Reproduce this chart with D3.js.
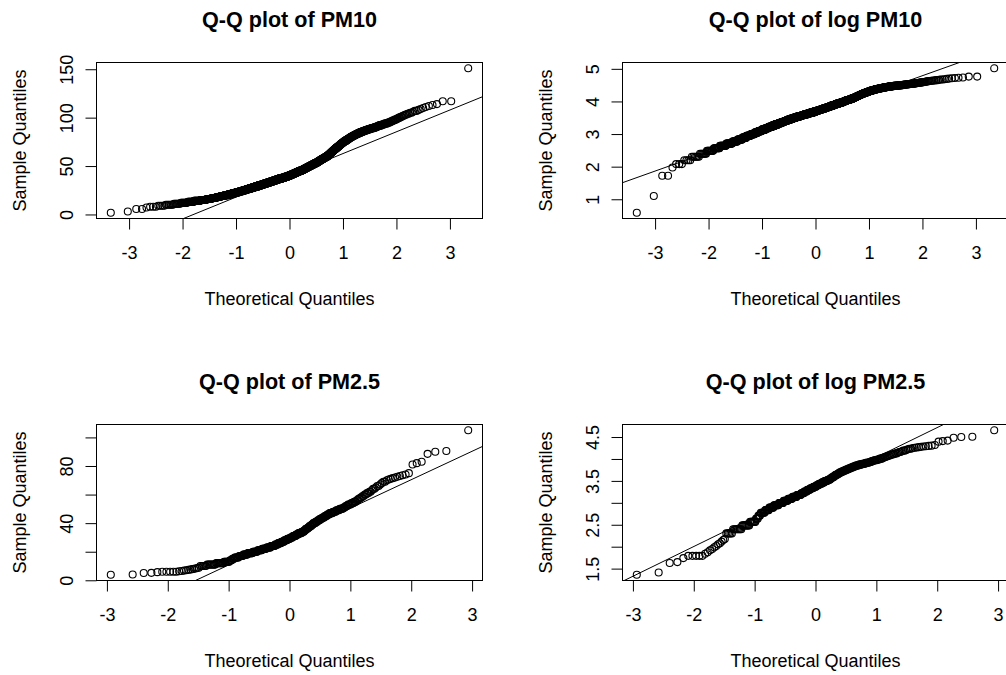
<!DOCTYPE html>
<html>
<head>
<meta charset="utf-8">
<script src="https://cdn.jsdelivr.net/npm/d3@7"></script>
<style>
  body { margin: 0; background: #fff; }
  svg text { font-family: "Liberation Sans", Arial, sans-serif; fill: #000; }
</style>
</head>
<body>
<svg id="chart" width="1006" height="675"></svg>
<script>
// Daily PM10 concentrations: distinct values and the number of days at each value
const pm10Values = [1.8, 3, 5.6, 7.2,
  8, 9, 10, 11, 12, 13, 14, 15, 16, 17, 18, 19, 20, 21, 22, 23, 24, 25, 26, 27, 28, 29, 30,
  31, 32, 33, 34, 35, 36, 37, 38, 39, 40,
  41, 42, 43, 44, 45, 46, 47, 48, 49, 50,
  51, 52, 53, 54, 55, 56, 57, 58, 59, 60,
  61, 62, 63, 64, 65, 66, 67, 68, 69, 70,
  71, 72, 73, 74, 75, 76, 77, 78, 79, 80,
  81, 82, 83, 84, 85, 86, 87, 88, 89, 90,
  91, 92, 93, 94, 95, 96, 97, 98, 99, 100,
  101, 102, 103, 104, 105, 106, 107, 108, 109, 110,
  111, 112, 113, 114, 117, 151];
const pm10Days = [1, 1, 2, 1,
  3, 4, 6, 7, 9, 10, 13, 15, 15, 16, 15, 17, 18, 18, 18, 20, 20, 21, 20, 22, 22, 22, 22,
  23, 25, 25, 25, 25, 25, 26, 27, 26, 23,
  20, 20, 20, 20, 19, 18, 16, 16, 16, 16,
  16, 15, 14, 12, 12, 12, 13, 12, 12, 10,
  7, 7, 7, 7, 7, 7, 7, 7, 7, 7,
  7, 6, 7, 7, 7, 8, 7, 7, 7, 8,
  8, 8, 8, 8, 8, 9, 9, 9, 9, 7,
  5, 6, 5, 6, 4, 3, 3, 3, 2, 2,
  2, 2, 2, 2, 2, 1, 2, 1, 1, 1,
  1, 1, 1, 1, 2, 1];

// Daily PM2.5 concentrations: distinct values and the number of days at each value
const pm25Values = [3.9, 4.1, 5.1, 5.2, 5.7, 6, 6.3, 6.5, 6.8, 7, 7.3, 7.5, 7.8, 8, 8.3, 8.6, 8.8,
  10, 11, 12, 13, 14, 15, 16, 17, 18, 19,
  20, 21, 22, 23, 24, 25, 26, 27, 28, 29,
  30, 31, 32, 33, 34, 35, 36, 37, 38, 39,
  40, 41, 42, 43, 44, 45, 46, 47, 48, 49,
  50, 51, 52, 53, 54, 55, 56, 57, 58, 59,
  60, 61, 62, 63, 64, 65, 66, 67, 68, 69,
  70, 70.5, 71, 71.5, 72, 72.5, 73, 73.5, 74, 75, 81, 82, 83, 88.5, 90, 90.5, 105];
const pm25Days = [1, 1, 1, 1, 1, 5, 1, 1, 1, 1, 1, 1, 1, 1, 1, 1, 1,
  5, 8, 8, 7, 3, 3, 6, 6, 7, 8,
  8, 8, 8, 8, 8, 6, 6, 6, 6, 6,
  5, 6, 5, 6, 5, 3, 4, 3, 4, 3,
  4, 4, 4, 4, 4, 4, 4, 5, 5, 5,
  5, 3, 3, 4, 3, 3, 2, 2, 2, 2,
  2, 2, 2, 1, 2, 1, 2, 1, 1, 2,
  1, 1, 1, 1, 1, 1, 1, 1, 1, 1, 1, 1, 1, 1, 1, 1, 1];

// Axis ticks and the labels printed beside them
const xTicks = [-3, -2, -1, 0, 1, 2, 3];
const pm10Ticks = [0, 50, 100, 150];
const pm10Labels = [0, 50, 100, 150];
const logPm10Ticks = [1, 2, 3, 4, 5];
const logPm10Labels = [1, 2, 3, 4, 5];
const pm25Ticks = [0, 20, 40, 60, 80, 100];
const pm25Labels = [0, 40, 80];
const logPm25Ticks = [1.5, 2, 2.5, 3, 3.5, 4, 4.5];
const logPm25Labels = [1.5, 2.5, 3.5, 4.5];

// Reference lines [intercept, slope]
const pm10Line = [40.4, 22.5];
const logPm10Line = [3.62, 0.585];
const pm25Line = [30.6, 19.9];
const logPm25Line = [3.36, 0.678];

// Expand a frequency table into a sorted sample
function expand(values, days) {
  const out = [];
  values.forEach((v, i) => { for (let k = 0; k < days[i]; k++) out.push(v); });
  return out.sort((a, b) => a - b);
}

// Inverse of the standard normal CDF (Acklam's rational approximation)
function qnorm(p) {
  const a = [-3.969683028665376e+01, 2.209460984245205e+02, -2.759285104469687e+02, 1.383577518672690e+02, -3.066479806614716e+01, 2.506628277459239e+00];
  const b = [-5.447609879822406e+01, 1.615858368580409e+02, -1.556989798598866e+02, 6.680131188771972e+01, -1.328068155288572e+01];
  const c = [-7.784894002430293e-03, -3.223964580411365e-01, -2.400758277161838e+00, -2.549732539343734e+00, 4.374664141464968e+00, 2.938163982698783e+00];
  const d = [7.784695709041462e-03, 3.224671290700398e-01, 2.445134137142996e+00, 3.754408661907416e+00];
  const pl = 0.02425;
  if (p < pl) {
    const q = Math.sqrt(-2 * Math.log(p));
    return (((((c[0]*q+c[1])*q+c[2])*q+c[3])*q+c[4])*q+c[5]) / ((((d[0]*q+d[1])*q+d[2])*q+d[3])*q+1);
  }
  if (p > 1 - pl) {
    const q = Math.sqrt(-2 * Math.log(1 - p));
    return -(((((c[0]*q+c[1])*q+c[2])*q+c[3])*q+c[4])*q+c[5]) / ((((d[0]*q+d[1])*q+d[2])*q+d[3])*q+1);
  }
  const q = p - 0.5, r = q * q;
  return (((((a[0]*r+a[1])*r+a[2])*r+a[3])*r+a[4])*r+a[5])*q / (((((b[0]*r+b[1])*r+b[2])*r+b[3])*r+b[4])*r+1);
}

// Plotting positions as in R's ppoints()
function ppoints(n) {
  const a = n <= 10 ? 3 / 8 : 0.5;
  return d3.range(1, n + 1).map(i => (i - a) / (n + 1 - 2 * a));
}

const pad = ([lo, hi]) => [lo - 0.04 * (hi - lo), hi + 0.04 * (hi - lo)];

const pm10 = expand(pm10Values, pm10Days);
const pm25 = expand(pm25Values, pm25Days);

const panels = [
  { title: "Q-Q plot of PM10", sample: pm10, yTicks: pm10Ticks, yLabels: pm10Labels, line: pm10Line, left: 96.5, top: 62.5 },
  { title: "Q-Q plot of log PM10", sample: pm10.map(Math.log), yTicks: logPm10Ticks, yLabels: logPm10Labels, line: logPm10Line, left: 622.5, top: 62.5 },
  { title: "Q-Q plot of PM2.5", sample: pm25, yTicks: pm25Ticks, yLabels: pm25Labels, line: pm25Line, left: 96.5, top: 424.5 },
  { title: "Q-Q plot of log PM2.5", sample: pm25.map(Math.log), yTicks: logPm25Ticks, yLabels: logPm25Labels, line: logPm25Line, left: 622.5, top: 424.5 }
];

const W = 386, H = 156;
const svg = d3.select("#chart");

panels.forEach((p, idx) => {
  const n = p.sample.length;
  const theo = ppoints(n).map(qnorm);
  const x = d3.scaleLinear().domain(pad(d3.extent(theo))).range([0, W]);
  const y = d3.scaleLinear().domain(pad(d3.extent(p.sample))).range([H, 0]);

  const g = svg.append("g").attr("transform", `translate(${p.left},${p.top})`);

  g.append("clipPath").attr("id", "clip" + idx)
    .append("rect").attr("width", W).attr("height", H);

  // sample quantiles against theoretical quantiles
  g.append("g").selectAll("circle")
    .data(d3.zip(theo, p.sample))
    .join("circle")
    .attr("cx", d => x(d[0]))
    .attr("cy", d => y(d[1]))
    .attr("r", 3.5)
    .attr("fill", "none")
    .attr("stroke", "#000")
    .attr("stroke-width", 1.1);

  // reference line through the quartiles
  const [b0, b1] = p.line;
  const xd = x.domain();
  g.append("line")
    .attr("clip-path", `url(#clip${idx})`)
    .attr("x1", x(xd[0])).attr("y1", y(b0 + b1 * xd[0]))
    .attr("x2", x(xd[1])).attr("y2", y(b0 + b1 * xd[1]))
    .attr("stroke", "#000").attr("stroke-width", 1);

  // plot frame
  g.append("rect").attr("width", W).attr("height", H)
    .attr("fill", "none").attr("stroke", "#000").attr("stroke-width", 1);

  // x axis
  const gx = g.append("g").attr("transform", `translate(0,${H})`)
    .call(d3.axisBottom(x).tickValues(xTicks).tickSize(11).tickFormat(d => String(d)));
  gx.select(".domain").remove();
  gx.selectAll(".tick line").attr("stroke", "#000");
  gx.selectAll(".tick text")
    .attr("y", 40).attr("dy", null)
    .style("font-size", "18px").attr("fill", "#000");

  // y axis
  const gy = g.append("g")
    .call(d3.axisLeft(y).tickValues(p.yTicks).tickSize(11)
      .tickFormat(d => p.yLabels.includes(d) ? String(d) : ""));
  gy.select(".domain").remove();
  gy.selectAll(".tick line").attr("stroke", "#000");
  gy.selectAll(".tick text")
    .attr("x", null).attr("dy", null)
    .attr("text-anchor", "middle")
    .attr("transform", "translate(-24,0) rotate(-90)")
    .style("font-size", "18px").attr("fill", "#000");

  // titles
  g.append("text")
    .attr("x", W / 2).attr("y", -35.5)
    .attr("text-anchor", "middle")
    .style("font-size", "21.6px").style("font-weight", "bold")
    .text(p.title);

  g.append("text")
    .attr("x", W / 2).attr("y", H + 86)
    .attr("text-anchor", "middle")
    .style("font-size", "18px")
    .text("Theoretical Quantiles");

  g.append("text")
    .attr("transform", `translate(-71,${H / 2}) rotate(-90)`)
    .attr("text-anchor", "middle")
    .style("font-size", "18px")
    .text("Sample Quantiles");
});
</script>
</body>
</html>
